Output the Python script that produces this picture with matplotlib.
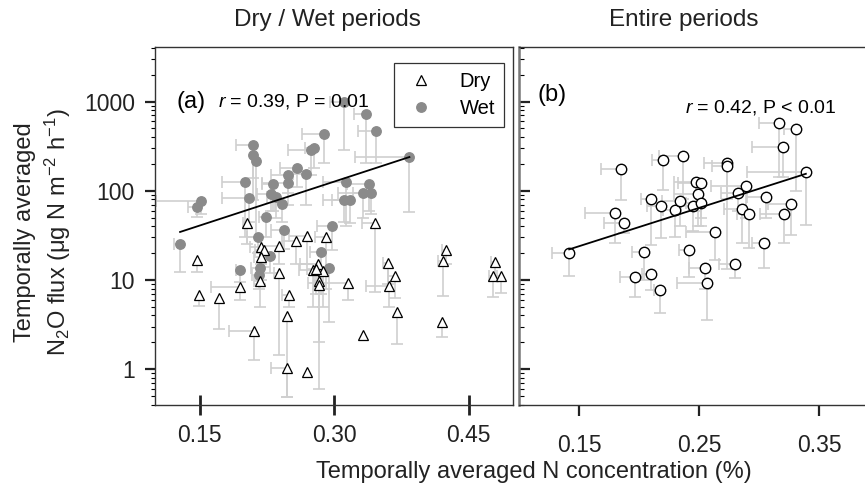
import numpy as np
import matplotlib
matplotlib.use("Agg")
import matplotlib.pyplot as plt
from matplotlib.lines import Line2D

plt.rcParams['font.family'] = ['Liberation Sans', 'DejaVu Sans']
plt.rcParams['mathtext.fontset'] = 'custom'
plt.rcParams['mathtext.rm'] = 'Liberation Sans'
plt.rcParams['mathtext.it'] = 'Liberation Sans:italic'

# ---- panel (a): dry / wet periods ----
wet_x = [0.128, 0.151, 0.147, 0.209, 0.209, 0.213, 0.201, 0.232, 0.249, 0.249, 0.259, 0.269, 0.274,
         0.278, 0.229, 0.235, 0.242, 0.205, 0.224, 0.244, 0.215, 0.228, 0.195, 0.217, 0.216, 0.311,
         0.336, 0.347, 0.289, 0.384, 0.313, 0.339, 0.332, 0.341, 0.311, 0.318, 0.298, 0.285, 0.294]
wet_y = [25, 77, 66, 327, 253, 218, 126, 119, 150, 121, 179, 154, 287, 300, 92, 86, 71, 82, 51, 36,
         30.5, 18.5, 12.9, 13.5, 11.4, 1000, 728, 469, 430, 238, 126, 119, 95, 95, 79, 79, 40.6, 20.4, 13.5]
wet_xerr = [0.007, 0.05, 0.010, 0.019, 0.0, 0.0, 0.026, 0.012, 0.02, 0.03, 0.02, 0.015, 0.025, 0.01,
            0.015, 0.01, 0.008, 0.030, 0.008, 0.015, 0.012, 0.01, 0.005, 0.01, 0.008, 0.016, 0.014,
            0.020, 0.025, 0.061, 0.026, 0.025, 0.028, 0.02, 0.024, 0.02, 0.017, 0.012, 0.01]
wet_ylo = [12.4, 55, 51, 79, 140, 30, 30, 60, 95, 70, 110, 70, 150, 180, 60, 50, 45, 45, 30, 22, 20,
           12, 9.5, 9, 8, 290, 203, 203, 203, 58, 40, 60, 50, 55, 45, 43, 21.7, 7, 3.4]

dry_x = [0.147, 0.1495, 0.171, 0.195, 0.203, 0.218, 0.222, 0.218, 0.217, 0.238, 0.238, 0.257, 0.270,
         0.250, 0.247, 0.211, 0.247, 0.270, 0.276, 0.282, 0.288, 0.280, 0.283, 0.283, 0.316, 0.346,
         0.291, 0.360, 0.368, 0.361, 0.370, 0.332, 0.425, 0.421, 0.420, 0.480, 0.477, 0.486]
dry_y = [16.7, 6.8, 6.2, 8.3, 43, 23.6, 21.7, 18.2, 9.7, 24, 12, 27.5, 31, 6.8, 3.9, 2.7, 1.02, 0.93,
         13, 15, 12.7, 13.1, 9.6, 8.8, 9.3, 43.8, 30, 15.6, 11.1, 8.5, 4.4, 2.4, 21.7, 16.2, 3.4,
         15.7, 11.1, 11.1]
dry_xerr = [0, 0, 0, 0.032, 0.005, 0.012, 0.01, 0.008, 0.006, 0.02, 0.005, 0.015, 0.02, 0.008, 0.0,
            0.028, 0.018, 0, 0.015, 0.02, 0.012, 0.01, 0.005, 0.005, 0.045, 0.015, 0.012, 0.005,
            0.008, 0.025, 0, 0, 0.005, 0.005, 0.0, 0.005, 0.004, 0.004]
dry_ylo = [12.3, 5.1, 2.8, 6, 25, 15, 14, 10, 5, 15, 1.43, 15, 15, 5, 0.49, 1.26, 0.49, 0.93, 5, 8,
           5, 7, 0.6, 2, 6, 7.4, 8, 9, 6.2, 5, 1.9, 2.4, 15, 6.6, 2.3, 11, 6.4, 7.2]

fit_a_x = [0.128, 0.384]
fit_a_y = [34.5, 239]

# ---- panel (b): entire periods ----
all_x = [0.1416, 0.180, 0.1877, 0.185, 0.1963, 0.2044, 0.210, 0.2102, 0.217, 0.2186, 0.220, 0.2298,
         0.2337, 0.2365, 0.2415, 0.2448, 0.2477, 0.249, 0.2513, 0.2513, 0.2552, 0.2563, 0.2632,
         0.273, 0.273, 0.2797, 0.2828, 0.286, 0.289, 0.2917, 0.3042, 0.3056, 0.3168, 0.320,
         0.3205, 0.3266, 0.3308, 0.339]
all_y = [19.9, 57, 44, 176, 10.7, 20.4, 11.6, 81, 7.8, 67.5, 222, 61, 77, 246, 21.7, 68, 126, 92,
         121, 73.5, 13.5, 9.3, 34.7, 206, 190, 15, 95, 62, 113, 55, 25.8, 84.5, 581, 313, 55, 70.5,
         490, 164]
all_xerr = [0.0145, 0.025, 0.017, 0.0167, 0.012, 0.0103, 0.0075, 0.009, 0.005, 0.012, 0.009, 0.01,
            0.015, 0.020, 0.0084, 0.01, 0.019, 0.02, 0.019, 0.012, 0.0137, 0.0245, 0.0245, 0.019,
            0.012, 0.013, 0.0148, 0.015, 0.029, 0.01, 0.01, 0.0156, 0.0167, 0.0257, 0.02, 0.019,
            0.01, 0.049]
all_ylo = [11.1, 25.8, 34, 79, 6.5, 10, 7.7, 24.7, 4.2, 29.5, 102, 30, 40, 80, 10.8, 35, 60, 40, 50,
           40, 8, 3.55, 16.7, 13.2, 80, 10.4, 60, 25.8, 50, 22.7, 13.5, 50, 144, 144, 25.8, 32, 100, 41]

fit_b_x = [0.1416, 0.339]
fit_b_y = [22.0, 155]

ERR_C = "#cfcfcf"
WET_C = "#8a8a8a"
SPINE_C = "#333333"
W, H = 865, 499


def px_axes(fig, left, top, right, bottom):
    return fig.add_axes([left / W, 1 - bottom / H, (right - left) / W, (bottom - top) / H])


def draw_errors(ax, x, y, xerr, ylo):
    x = np.asarray(x); y = np.asarray(y)
    xerr = np.asarray(xerr); ylo = np.asarray(ylo)
    m = xerr > 0
    ax.hlines(y[m], x[m] - xerr[m], x[m], color=ERR_C, lw=1.2, zorder=1)
    ax.plot(x[m] - xerr[m], y[m], ls="none", marker="|", ms=8, mew=1.2, color=ERR_C, zorder=1)
    m = ylo < y
    ax.vlines(x[m], ylo[m], y[m], color=ERR_C, lw=1.2, zorder=1)
    ax.plot(x[m], ylo[m], ls="none", marker="_", ms=8, mew=1.2, color=ERR_C, zorder=1)


def style_axes(ax):
    ax.set_yscale("log")
    ax.set_ylim(0.395, 4100)
    for s in ax.spines.values():
        s.set_color(SPINE_C)
        s.set_linewidth(1.0)
    ax.tick_params(labelsize=16.5, colors="#222222")


fig = plt.figure(figsize=(W / 100, H / 100), dpi=100)
ax1 = px_axes(fig, 155, 47, 513.3, 405)
ax2 = px_axes(fig, 519.3, 47, 864, 405)

# panel (a)
draw_errors(ax1, wet_x, wet_y, wet_xerr, wet_ylo)
draw_errors(ax1, dry_x, dry_y, dry_xerr, dry_ylo)
ax1.plot(wet_x, wet_y, ls="none", marker="o", ms=6.8, color=WET_C, mec=WET_C, zorder=3)
ax1.plot(dry_x, dry_y, ls="none", marker="^", ms=7.5, mfc="white", mec="black", mew=0.9, zorder=3)
ax1.plot(fit_a_x, fit_a_y, color="black", lw=1.3, zorder=4)
style_axes(ax1)
ax1.set_xlim(0.10, 0.50)
ax1.set_xticks([0.15, 0.30, 0.45])
ax1.set_xticklabels(["0.15", "0.30", "0.45"])
ax1.set_yticks([1, 10, 100, 1000])
ax1.set_yticklabels(["1", "10", "100", "1000"])
ax1.tick_params(axis="x", direction="inout", length=15, width=2, pad=6)
ax1.tick_params(axis="y", which="major", direction="out", length=7, width=1.6, pad=7.5)
ax1.tick_params(axis="y", which="minor", direction="out", length=3, width=0.8)
ax1.text(0.06, 0.847, "(a)", transform=ax1.transAxes, fontsize=17, va="center")
ax1.text(0.176, 0.847, "$r$ = 0.39, P = 0.01", transform=ax1.transAxes, fontsize=14, va="center")
handles = [Line2D([], [], ls="none", marker="^", ms=7.5, mfc="white", mec="black", mew=0.9),
           Line2D([], [], ls="none", marker="o", ms=6.8, color=WET_C)]
leg = ax1.legend(handles, ["Dry", "Wet"], loc="upper right", bbox_to_anchor=(0.974, 0.956),
                 borderaxespad=0, fontsize=14.5, frameon=True, fancybox=False,
                 handletextpad=1.0, handlelength=1.8, borderpad=0.45, labelspacing=0.4)
leg.get_frame().set_edgecolor("black")
leg.get_frame().set_linewidth(0.9)

# panel (b)
draw_errors(ax2, all_x, all_y, all_xerr, all_ylo)
ax2.plot(all_x, all_y, ls="none", marker="o", ms=7.5, mfc="white", mec="black", mew=1.0, zorder=3)
ax2.plot(fit_b_x, fit_b_y, color="black", lw=1.3, zorder=4)
style_axes(ax2)
ax2.set_xlim(0.10, 0.3875)
ax2.set_xticks([0.15, 0.25, 0.35])
ax2.set_xticklabels(["0.15", "0.25", "0.35"])
ax2.set_yticks([1, 10, 100, 1000])
ax2.tick_params(axis="y", which="both", labelleft=False)
ax2.tick_params(axis="x", direction="out", length=8, width=1.6, pad=13)
ax2.tick_params(axis="y", which="major", direction="in", length=8, width=1.6)
ax2.tick_params(axis="y", which="minor", direction="in", length=3.5, width=0.8)
ax2.spines["right"].set_visible(False)
ax2.spines["left"].set_color("#777777")
ax2.spines["left"].set_linewidth(1.8)
ax2.text(0.0515, 0.867, "(b)", transform=ax2.transAxes, fontsize=17, va="center")
ax2.text(0.482, 0.830, "$r$ = 0.42, P < 0.01", transform=ax2.transAxes, fontsize=14, va="center")

# titles and labels
fig.text(327 / W, 1 - 20 / H, "Dry / Wet periods", ha="center", va="center", fontsize=17.5, color="#222222")
fig.text(684 / W, 1 - 20 / H, "Entire periods", ha="center", va="center", fontsize=17.5, color="#222222")
fig.text(534 / W, 1 - 472 / H, "Temporally averaged N concentration (%)", ha="center", va="center",
         fontsize=17, color="#222222")
fig.text(25 / W, 1 - 232 / H, "Temporally averaged", rotation=90, ha="center", va="center",
         fontsize=17, color="#222222")
fig.text(58 / W, 1 - 232 / H, "N$_2$O flux (μg N m$^{-2}$ h$^{-1}$)", rotation=90, ha="center",
         va="center", fontsize=17, color="#222222")

fig.savefig("out.png", dpi=100)
